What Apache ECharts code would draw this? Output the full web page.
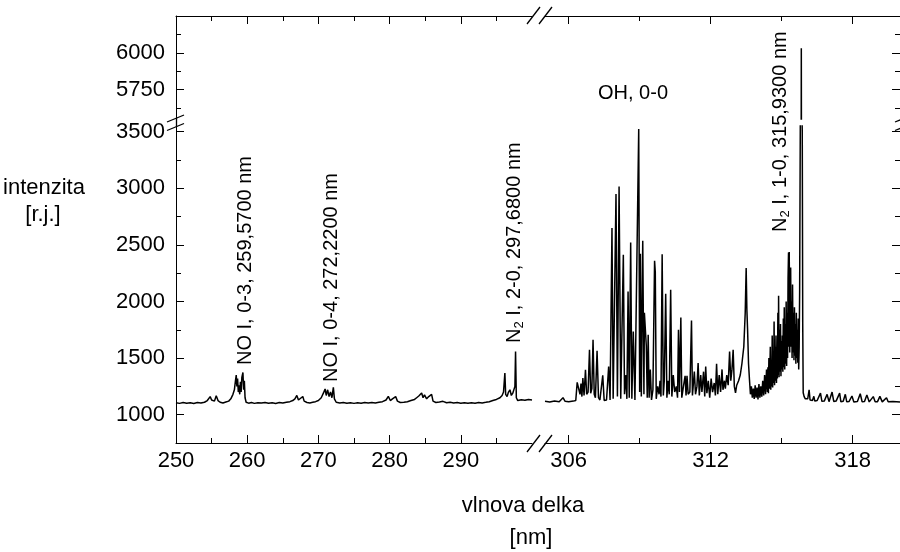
<!DOCTYPE html>
<html><head><meta charset="utf-8">
<script src="https://cdn.jsdelivr.net/npm/echarts@6/dist/echarts.min.js"></script>
<style>html,body{margin:0;padding:0;background:#fff}#chart{width:900px;height:552px}</style>
</head><body><div id="chart"></div>
<script>
// ---- data ----
// left segment (250-300 nm)
const leftNm = [250.0,250.5,251.0,251.5,252.0,252.5,253.0,253.5,254.0,254.4,254.8,255.0,255.2,255.4,255.65,255.9,256.2,256.6,257.0,257.4,257.7,258.0,258.2,258.35,258.46,258.55,258.65,258.75,258.85,258.95,259.05,259.15,259.25,259.4,259.5,259.6,259.7,259.85,260.2,260.6,261.0,261.5,262.0,262.5,263.0,263.5,264.0,264.5,265.0,265.5,266.0,266.4,266.7,266.97,267.2,267.5,267.81,268.0,268.4,268.8,269.2,269.6,270.0,270.4,270.7,270.94,271.1,271.3,271.5,271.7,271.9,272.1,272.25,272.5,273.0,273.5,274.0,274.5,275.0,275.5,276.0,276.5,277.0,277.5,278.0,278.5,279.0,279.5,279.82,280.1,280.4,280.85,281.1,281.5,282.0,282.5,283.0,283.5,283.8,284.1,284.5,284.7,284.9,285.2,285.5,285.9,286.1,286.5,287.0,287.5,288.0,288.5,289.0,289.5,290.0,290.5,291.0,291.5,292.0,292.5,293.0,293.5,294.0,294.5,295.0,295.5,295.8,296.0,296.19,296.3,296.5,296.7,296.9,297.1,297.3,297.5,297.6,297.69,297.8,298.0,298.5,299.0,299.5,300.0];
const leftIntensity = [1105,1100,1108,1102,1106,1099,1107,1103,1110,1125,1160,1130,1145,1120,1168,1125,1110,1104,1112,1120,1140,1180,1220,1300,1350,1250,1320,1200,1260,1180,1290,1200,1330,1373,1220,1300,1150,1110,1102,1108,1100,1106,1103,1108,1101,1105,1099,1107,1103,1110,1115,1125,1140,1170,1130,1145,1160,1120,1108,1104,1110,1115,1125,1150,1190,1227,1170,1220,1160,1200,1150,1241,1140,1110,1104,1108,1102,1106,1100,1105,1102,1107,1103,1108,1104,1110,1115,1130,1162,1125,1140,1160,1120,1108,1110,1115,1125,1135,1150,1165,1191,1150,1175,1140,1160,1180,1120,1108,1112,1118,1106,1110,1104,1108,1102,1106,1101,1105,1102,1107,1104,1109,1115,1125,1135,1150,1170,1200,1368,1180,1160,1200,1220,1170,1190,1200,1250,1559,1150,1125,1132,1128,1135,1130];

// right segment, OH band part (305-314.36 nm)
const ohNm = [305.0,305.2,305.4,305.6,305.76,305.85,306.0,306.2,306.3,306.36,306.42,306.48,306.52,306.56,306.6,306.65,306.71,306.76,306.82,306.88,306.93,306.98,307.03,307.08,307.13,307.2,307.26,307.32,307.44,307.5,307.6,307.69,307.75,307.83,307.88,307.94,308.0,308.06,308.13,308.2,308.25,308.31,308.36,308.42,308.46,308.51,308.56,308.62,308.67,308.73,308.8,308.88,308.96,309.0,309.03,309.07,309.13,309.18,309.2,309.28,309.32,309.36,309.4,309.45,309.5,309.56,309.63,309.66,309.7,309.76,309.82,309.86,309.9,309.95,310.0,310.04,310.1,310.15,310.2,310.25,310.31,310.36,310.42,310.48,310.55,310.6,310.64,310.68,310.74,310.78,310.85,310.92,310.96,311.0,311.05,311.12,311.19,311.23,311.31,311.36,311.42,311.47,311.52,311.58,311.63,311.7,311.75,311.79,311.84,311.9,311.96,312.02,312.08,312.15,312.2,312.25,312.3,312.36,312.42,312.48,312.52,312.58,312.62,312.68,312.74,312.8,312.85,312.9,312.95,313.0,313.05,313.1,313.18,313.25,313.32,313.4,313.46,313.5,313.53,313.56,313.6,313.64,313.68,313.72,313.76,313.8,313.84,313.88,313.92,313.96,314.0,314.04,314.08,314.12,314.16,314.2,314.24,314.28,314.32,314.36];
const ohIntensity = [1118,1112,1120,1115,1150,1118,1115,1120,1125,1285,1270,1180,1275,1160,1324,1170,1397,1180,1200,1574,1190,1230,1662,1180,1150,1565,1150,1130,1347,1125,1130,1426,1130,2648,1140,1150,2950,1160,3015,1140,1150,2412,1180,1350,1140,2088,1150,2521,1140,1735,1130,1140,3524,1200,2421,1160,2536,1180,1900,1609,1150,1706,1150,1400,1130,1220,2359,2260,1140,1250,1180,1300,1160,2418,1170,1300,2068,1150,1300,1180,2103,1160,1350,1200,1250,1150,1750,1200,1859,1150,1250,1344,1170,1344,1180,1200,1832,1170,1382,1180,1250,1456,1170,1350,1200,1380,1160,1426,1190,1300,1150,1320,1200,1280,1170,1450,1180,1350,1200,1400,1220,1300,1230,1350,1260,1559,1300,1400,1574,1250,1192,1260,1300,1350,1450,1600,1900,2295,1927,1750,1450,1309,1180,1250,1150,1230,1140,1260,1150,1240,1135,1270,1150,1250,1160,1300,1170,1350,1180,1400];

// right segment, dense N2 (1-0) band head (314.40-315.76 nm), [nm, intensity]
const n2Band = [[314.40,1200],[314.42,1420],[314.44,1190],[314.46,1500],[314.48,1230],[314.50,1380],[314.52,1600],[314.54,1220],[314.56,1450],[314.58,1250],[314.60,1700],[314.62,1240],[314.64,1550],[314.66,1280],[314.68,1824],[314.70,1260],[314.72,1600],[314.74,1300],[314.76,1700],[314.78,1280],[314.80,1500],[314.82,1320],[314.84,1900],[314.86,1350],[314.87,2050],[314.89,1330],[314.91,1750],[314.93,1380],[314.95,1800],[314.97,1340],[314.99,1650],[315.01,1400],[315.03,1700],[315.05,1380],[315.07,1850],[315.09,1420],[315.11,1950],[315.13,1400],[315.15,1800],[315.17,1450],[315.19,2000],[315.21,1430],[315.23,1900],[315.25,1500],[315.27,2200],[315.29,2433],[315.31,1600],[315.32,2436],[315.34,1550],[315.36,2200],[315.38,2300],[315.40,1600],[315.42,2000],[315.44,1500],[315.46,2150],[315.48,1550],[315.50,1900],[315.52,1480],[315.54,1950],[315.56,1520],[315.58,1800],[315.60,1450],[315.62,1900],[315.64,1500],[315.66,1750],[315.68,1460],[315.70,1850],[315.72,1400],[315.74,1600],[315.76,2100]];

// right segment, N2 peak and tail (315.79-320 nm)
const tailNm = [315.79,315.81,315.83,315.85,315.87,315.89,315.91,315.95,316.0,316.05,316.1,316.16,316.2,316.3,316.36,316.4,316.5,316.64,316.7,316.8,316.92,317.0,317.13,317.2,317.3,317.45,317.5,317.6,317.69,317.75,317.85,317.97,318.05,318.2,318.32,318.4,318.5,318.6,318.7,318.87,318.95,319.05,319.15,319.25,319.43,319.5,319.7,320.0];
const tailIntensity = [3700,3900,6030,3800,3500,1800,1194,1160,1140,1130,1140,1220,1130,1125,1162,1120,1125,1191,1118,1120,1180,1115,1200,1117,1120,1191,1115,1118,1180,1114,1117,1165,1113,1116,1185,1114,1116,1175,1113,1160,1114,1115,1162,1113,1150,1114,1116,1113];

const xLeftMajor = [250, 260, 270, 280, 290];
const xLeftMinor = [255, 265, 275, 285, 295];
const xRightMajor = [306, 312, 318];
const xRightMinor = [309, 315];
const yLowMajor = [1000, 1500, 2000, 2500, 3000, 3500];
const yLowMinor = [1250, 1750, 2250, 2750, 3250];
const yHighMajor = [5750, 6000];
const yHighMinor = [5625, 5875, 6125];

const FONT = 'Liberation Sans, Arial, sans-serif';
const plain = v => String(v);

function xAx(grid, pos, min, max, ticks, len, showLine, labels) {
  return {
    type: 'value', gridIndex: grid, position: pos, min: min, max: max,
    axisLine: { show: showLine, onZero: false, lineStyle: { color: '#000', width: 1 } },
    axisTick: { show: true, inside: true, length: len, customValues: ticks, lineStyle: { color: '#000', width: 1 } },
    axisLabel: { show: !!labels, customValues: labels || ticks, formatter: plain, margin: 7, fontSize: 22, color: '#000', fontFamily: FONT },
    splitLine: { show: false }
  };
}
function yAx(grid, pos, min, max, ticks, len, showLine, labels) {
  return {
    type: 'value', gridIndex: grid, position: pos, min: min, max: max,
    axisLine: { show: showLine, onZero: false, lineStyle: { color: '#000', width: 1 } },
    axisTick: { show: true, inside: true, length: len, customValues: ticks, lineStyle: { color: '#000', width: 1 } },
    axisLabel: { show: !!labels, customValues: labels || ticks, formatter: plain, margin: 11, fontSize: 22, color: '#000', fontFamily: FONT },
    splitLine: { show: false }
  };
}

const LX = [250, 300], RX = [305, 320], LOWY = [750, 3550], HIGHY = [5550, 6250];

const xAxis = [
  xAx(0, 'bottom', LX[0], LX[1], xLeftMajor, 8, true, xLeftMajor),
  xAx(0, 'bottom', LX[0], LX[1], xLeftMinor, 5, false),
  xAx(1, 'bottom', RX[0], RX[1], xRightMajor, 8, true, xRightMajor),
  xAx(1, 'bottom', RX[0], RX[1], xRightMinor, 5, false),
  xAx(2, 'top', LX[0], LX[1], xLeftMajor, 8, true),
  xAx(2, 'top', LX[0], LX[1], xLeftMinor, 5, false),
  xAx(3, 'top', RX[0], RX[1], xRightMajor, 8, true),
  xAx(3, 'top', RX[0], RX[1], xRightMinor, 5, false)
];
const yAxis = [
  yAx(0, 'left', LOWY[0], LOWY[1], yLowMajor, 8, true, yLowMajor),
  yAx(0, 'left', LOWY[0], LOWY[1], yLowMinor, 5, false),
  yAx(1, 'right', LOWY[0], LOWY[1], yLowMajor, 8, true),
  yAx(1, 'right', LOWY[0], LOWY[1], yLowMinor, 5, false),
  yAx(2, 'left', HIGHY[0], HIGHY[1], yHighMajor, 8, true, yHighMajor),
  yAx(2, 'left', HIGHY[0], HIGHY[1], yHighMinor, 5, false),
  yAx(3, 'right', HIGHY[0], HIGHY[1], yHighMajor, 8, true),
  yAx(3, 'right', HIGHY[0], HIGHY[1], yHighMinor, 5, false)
];

const leftData = leftNm.map((x, i) => [x, leftIntensity[i]]);
const rightData = ohNm.map((x, i) => [x, ohIntensity[i]])
  .concat(n2Band)
  .concat(tailNm.map((x, i) => [x, tailIntensity[i]]));

function lineSeries(xi, yi, data) {
  return {
    type: 'line', xAxisIndex: xi, yAxisIndex: yi, data: data,
    showSymbol: false, symbol: 'none', clip: true, silent: true, sampling: null,
    lineStyle: { color: '#000', width: 1.5 }
  };
}

const annoRich = {
  a: { fontSize: 20, fontFamily: FONT, lineHeight: 24, color: '#000' },
  s: { fontSize: 13, fontFamily: FONT, lineHeight: 12, verticalAlign: 'bottom', color: '#000' }
};
function vText(x, y, text) {
  return { type: 'text', x: x, y: y, rotation: Math.PI / 2,
    style: { text: text, rich: annoRich, align: 'left', verticalAlign: 'middle' } };
}
function hText(x, y, text, size) {
  return { type: 'text', x: x, y: y,
    style: { text: text, font: size + 'px ' + FONT, fill: '#000', align: 'center', verticalAlign: 'middle' } };
}
function seg(x1, y1, x2, y2) {
  return { type: 'line', shape: { x1: x1, y1: y1, x2: x2, y2: y2 }, style: { stroke: '#000', lineWidth: 1.3 } };
}

const chart = echarts.init(document.getElementById('chart'), null, { renderer: 'canvas' });
chart.setOption({
  animation: false,
  backgroundColor: '#fff',
  grid: [
    { left: 176, top: 126, width: 356, height: 317 },
    { left: 545, top: 126, width: 358, height: 317 },
    { left: 176, top: 16, width: 356, height: 103 },
    { left: 545, top: 16, width: 358, height: 103 }
  ],
  xAxis: xAxis,
  yAxis: yAxis,
  series: [
    lineSeries(0, 0, leftData),
    lineSeries(2, 2, rightData),
    lineSeries(4, 4, leftData),
    lineSeries(6, 6, rightData)
  ],
  graphic: [
    vText(245, 365, '{a|NO I, 0-3, 259,5700 nm}'),
    vText(331, 382, '{a|NO I, 0-4, 272,2200 nm}'),
    vText(514, 343, '{a|N}{s|2}{a| I, 2-0, 297,6800 nm}'),
    vText(780, 232, '{a|N}{s|2}{a| I, 1-0, 315,9300 nm}'),
    hText(633, 93, 'OH, 0-0', 20),
    hText(44, 188, 'intenzita', 22),
    hText(43, 215, '[r.j.]', 22),
    hText(523, 506, 'vlnova delka', 22),
    hText(531, 538, '[nm]', 22),
    seg(176.5, 118, 176.5, 127),
    seg(527, 452, 540, 435), seg(539, 452, 552, 435),
    seg(527, 24, 540, 7), seg(539, 24, 552, 7),
    seg(167, 122, 184, 115), seg(167, 130.5, 184, 123.5),
    seg(895, 122, 912, 115), seg(895, 130.5, 912, 123.5)
  ]
});
</script></body></html>
